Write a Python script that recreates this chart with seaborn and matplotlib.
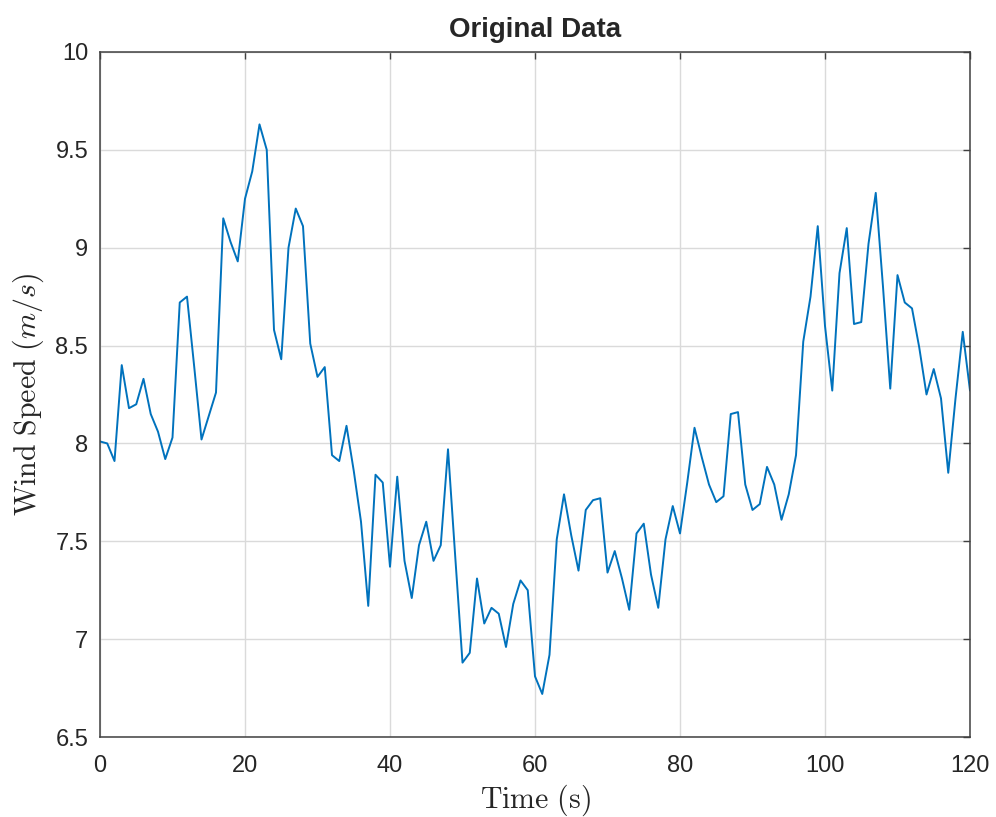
import matplotlib
matplotlib.use('Agg')
import matplotlib.pyplot as plt
import numpy as np
import pandas as pd
import seaborn as sns

# wind speed samples, one per second (0..120 s)
time_s = list(range(0, 121))
wind_speed = [
    8.01, 8.00, 7.91, 8.40, 8.18, 8.20, 8.33, 8.15, 8.06, 7.92,
    8.03, 8.72, 8.75, 8.39, 8.02, 8.14, 8.26, 9.15, 9.03, 8.93,
    9.25, 9.39, 9.63, 9.50, 8.58, 8.43, 9.00, 9.20, 9.11, 8.51,
    8.34, 8.39, 7.94, 7.91, 8.09, 7.86, 7.60, 7.17, 7.84, 7.80,
    7.37, 7.83, 7.40, 7.21, 7.48, 7.60, 7.40, 7.48, 7.97, 7.42,
    6.88, 6.93, 7.31, 7.08, 7.16, 7.13, 6.96, 7.18, 7.30, 7.25,
    6.81, 6.72, 6.92, 7.51, 7.74, 7.53, 7.35, 7.66, 7.71, 7.72,
    7.34, 7.45, 7.31, 7.15, 7.54, 7.59, 7.33, 7.16, 7.51, 7.68,
    7.54, 7.80, 8.08, 7.93, 7.79, 7.70, 7.73, 8.15, 8.16, 7.79,
    7.66, 7.69, 7.88, 7.79, 7.61, 7.74, 7.94, 8.52, 8.75, 9.11,
    8.60, 8.27, 8.87, 9.10, 8.61, 8.62, 9.02, 9.28, 8.80, 8.28,
    8.86, 8.72, 8.69, 8.49, 8.25, 8.38, 8.23, 7.85, 8.23, 8.57,
    8.27,
]
x_ticks = [0, 20, 40, 60, 80, 100, 120]
y_ticks = [6.5, 7, 7.5, 8, 8.5, 9, 9.5, 10]
y_ticklabels = ['6.5', '7', '7.5', '8', '8.5', '9', '9.5', '10']

matlab_blue = '#0072BD'
axis_grey = '#262626'

sns.set_style('white')
plt.rcParams['font.family'] = ['Liberation Sans', 'DejaVu Sans']
plt.rcParams['mathtext.fontset'] = 'cm'

df = pd.DataFrame({'t': time_s, 'v': wind_speed})

fig = plt.figure(figsize=(9.96, 8.17), dpi=100)
ax = fig.add_axes([0.1004, 0.0979, 0.8735, 0.8385])

sns.lineplot(data=df, x='t', y='v', color=matlab_blue, lw=1.4, ax=ax)

ax.set_xlim(0, 120)
ax.set_ylim(6.5, 10)
ax.set_xticks(x_ticks)
ax.set_yticks(y_ticks)
ax.set_yticklabels(y_ticklabels)

ax.grid(True, color='#dadada', lw=1.0)
ax.set_axisbelow(True)
for s in ax.spines.values():
    s.set_visible(True)
    s.set_color('#404040')
    s.set_linewidth(1.1)

ax.tick_params(axis='both', direction='in', length=5, width=1.0,
               color='#404040', labelcolor=axis_grey, labelsize=17,
               top=True, right=True)
ax.tick_params(axis='x', pad=13)
ax.tick_params(axis='y', pad=8.5)

ax.set_title('Original Data', fontsize=20, fontweight='bold', pad=11)
ax.set_xlabel(r'$\mathrm{Time\ (s)}$', fontsize=21.5, color=axis_grey, labelpad=4)
ax.set_ylabel(r'$\mathrm{Wind\ Speed}\ (m/s)$', fontsize=21.5, color=axis_grey, labelpad=7)

fig.savefig('out.png', dpi=100)
